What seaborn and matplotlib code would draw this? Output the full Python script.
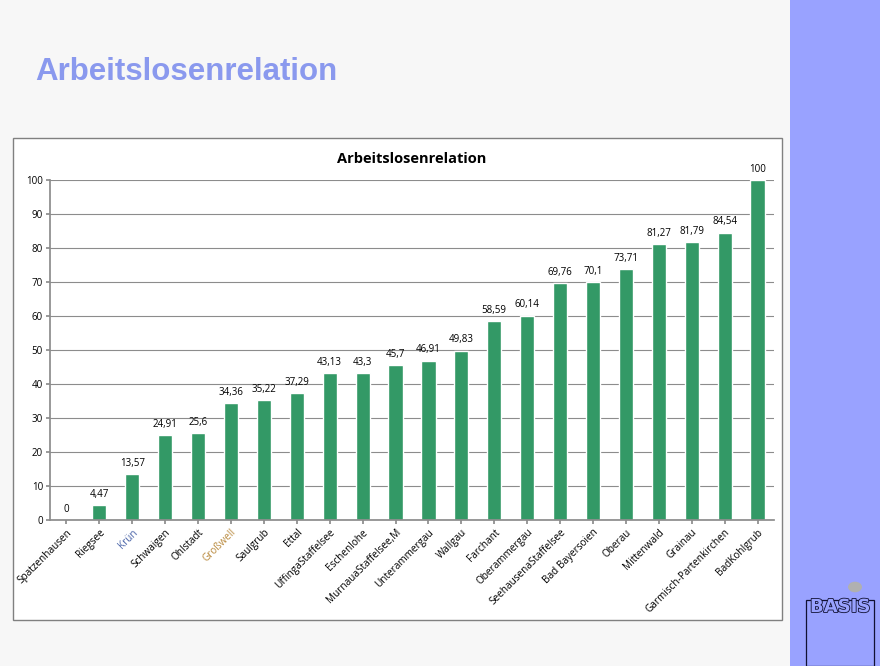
"""
Arbeitslosenrelation slide, bar chart per municipality.
"""

import matplotlib
matplotlib.use("Agg")
from matplotlib import pyplot as plt
from matplotlib.patches import Rectangle, Circle
import matplotlib.patheffects as pe
import seaborn as sns
import pandas as pd

# Data.
orte = [
    "Spatzenhausen", "Riegsee", "Krün", "Schwaigen", "Ohlstadt", "Großwell",
    "Saulgrub", "Ettal", "UffingaStaffelsee", "Eschenlohe",
    "MurnauaStaffelsee,M", "Unterammergau", "Wallgau", "Farchant",
    "Oberammergau", "SeehausenaStaffelsee", "Bad Bayersoien", "Oberau",
    "Mittenwald", "Grainau", "Garmisch-Partenkirchen", "BadKohlgrub",
]
werte = [
    0, 4.47, 13.57, 24.91, 25.6, 34.36, 35.22, 37.29, 43.13, 43.3, 45.7,
    46.91, 49.83, 58.59, 60.14, 69.76, 70.1, 73.71, 81.27, 81.79, 84.54, 100,
]
label_texte = [
    "0", "4,47", "13,57", "24,91", "25,6", "34,36", "35,22", "37,29", "43,13",
    "43,3", "45,7", "46,91", "49,83", "58,59", "60,14", "69,76", "70,1",
    "73,71", "81,27", "81,79", "84,54", "100",
]
# Two labels render with odd colours in the original slide.
label_farben = {"Krün": "#4a64a8", "Großwell": "#b98a3e"}

df = pd.DataFrame({"Ort": orte, "Wert": werte})

sns.set_theme(style="white")
plt.rcParams["font.family"] = ["Open Sans", "DejaVu Sans"]

fig = plt.figure(figsize=(8.8, 6.66), dpi=100)
fig.patch.set_facecolor("#f7f7f7")

# Right sidebar and chart frame (behind the axes).
fig.patches.append(Rectangle((790 / 880, 0), 90 / 880, 1, transform=fig.transFigure,
                             facecolor="#99a2ff", edgecolor="none", zorder=-2))
fig.patches.append(Rectangle((13 / 880, 1 - 620 / 666), 769 / 880, 482 / 666,
                             transform=fig.transFigure, facecolor="white",
                             edgecolor="#808080", linewidth=1.0, zorder=-2))

fig.text(35 / 880, 1 - 72 / 666, "Arbeitslosenrelation", fontsize=22.5,
         fontweight="bold", color="#8a99ee", va="center", ha="left",
         family=["Liberation Sans", "DejaVu Sans"])

ax = fig.add_axes([50 / 880, 1 - 520 / 666, 724 / 880, 340 / 666])
ax.set_facecolor("white")
sns.barplot(data=df, x="Ort", y="Wert", color="#339966", saturation=1,
            width=0.43, ax=ax)

ax.set_ylim(0, 100)
ax.set_xlim(-0.5, len(orte) - 0.5)
ax.set_yticks(range(0, 101, 10))
ax.yaxis.grid(True, color="#8c8c8c", linewidth=0.8)
ax.set_axisbelow(True)
for side in ["top", "right"]:
    ax.spines[side].set_visible(False)
ax.spines["left"].set_color("#8c8c8c")
ax.spines["bottom"].set_color("#8c8c8c")
ax.tick_params(axis="both", length=3, color="#8c8c8c", labelsize=7,
               labelcolor="black", bottom=True, left=True, pad=2)
ax.set_xticks(range(len(orte)))
ax.set_xticklabels(orte, rotation=45, ha="right", rotation_mode="anchor",
                   fontsize=7.2)
for lbl in ax.get_xticklabels():
    lbl.set_color(label_farben.get(lbl.get_text(), "black"))
ax.set_xlabel("")
ax.set_ylabel("")

for i, (w, t) in enumerate(zip(werte, label_texte)):
    ax.text(i, w + 1.5, t, ha="center", va="bottom", fontsize=7,
            color="black")

ax.set_title("Arbeitslosenrelation", fontsize=10.5, fontweight="bold",
             color="black", pad=12)

# Logo in the sidebar corner.
fig.patches.append(Circle((855 / 880, 1 - 587 / 666), 7 / 880,
                          transform=fig.transFigure, facecolor="#b0b0b0",
                          edgecolor="none"))
logo = fig.text(840 / 880, 1 - 607 / 666, "BASIS", fontsize=13,
                fontweight="bold", color="#99a2ff", ha="center", va="center",
                family=["Liberation Sans Narrow", "DejaVu Sans"])
logo.set_path_effects([pe.withStroke(linewidth=1.2, foreground="#111133")])
fig.patches.append(Rectangle((806 / 880, 0.0), 68 / 880, 1 - 600 / 666,
                             transform=fig.transFigure, facecolor="none",
                             edgecolor="#111133", linewidth=0.9))

plt.savefig("out.png", dpi=100, facecolor=fig.get_facecolor())
